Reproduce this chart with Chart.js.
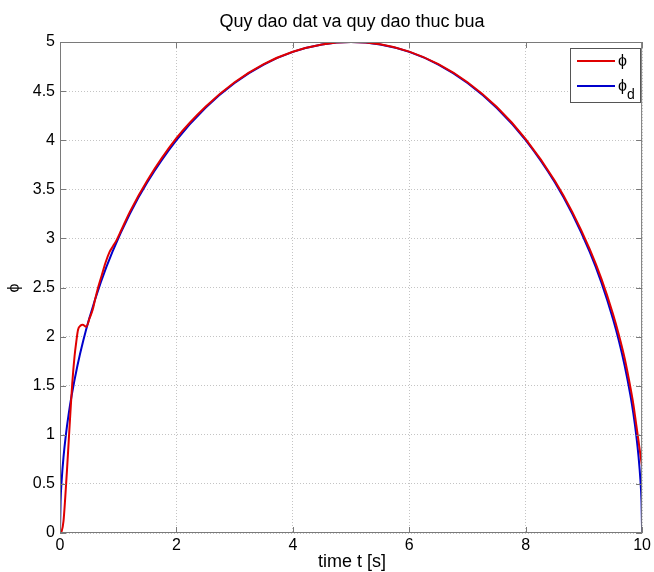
<!DOCTYPE html>
<html><head><meta charset="utf-8">
<script src="https://cdn.jsdelivr.net/npm/chart.js@4"></script>
<style>html,body{margin:0;padding:0;background:#fff}#wrap{width:654px;height:572px}</style>
</head><body><div id="wrap"><canvas id="c" width="654" height="572"></canvas></div>
<script>
const titleText = "Quy dao dat va quy dao thuc bua";
const xLabel = "time t [s]";
const yLabel = "\u03D5";
const xTicks = [0, 2, 4, 6, 8, 10];
const yTicks = [0, 0.5, 1, 1.5, 2, 2.5, 3, 3.5, 4, 4.5, 5];

const desiredT = [0, 0.01, 0.03, 0.06, 0.1, 0.15, 0.2, 0.3, 0.4, 0.5, 0.7, 0.9, 1.2, 1.5, 2, 2.5, 3, 3.5, 4, 4.5, 5, 5.5, 6, 6.5, 7, 7.5, 8, 8.5, 8.8, 9.1, 9.3, 9.5, 9.6, 9.7, 9.8, 9.85, 9.9, 9.94, 9.97, 9.99, 10];
const desiredPhi = [0, 0.316, 0.547, 0.772, 0.995, 1.216, 1.4, 1.706, 1.96, 2.179, 2.551, 2.862, 3.25, 3.571, 4, 4.33, 4.583, 4.77, 4.899, 4.975, 5, 4.975, 4.899, 4.77, 4.583, 4.33, 4, 3.571, 3.25, 2.862, 2.551, 2.179, 1.96, 1.706, 1.4, 1.216, 0.995, 0.772, 0.547, 0.316, 0];

const actualT = [0, 0.03, 0.06, 0.09, 0.12, 0.15, 0.18, 0.21, 0.25, 0.28, 0.31, 0.35, 0.39, 0.45, 0.51, 0.56, 0.6, 0.65, 0.71, 0.78, 0.85, 0.91, 0.97, 1.05, 1.2, 1.5, 2, 2.5, 3, 3.5, 4, 4.5, 5, 5.5, 6, 6.5, 7, 7.5, 8, 8.5, 8.8, 9.1, 9.3, 9.5, 9.6, 9.7, 9.8, 9.85, 9.9, 9.94, 9.97, 10];
const actualPhi = [0, 0.02, 0.12, 0.36, 0.64, 0.94, 1.24, 1.52, 1.8, 1.95, 2.07, 2.11, 2.12, 2.1, 2.19, 2.27, 2.37, 2.49, 2.61, 2.75, 2.86, 2.92, 2.98, 3.08, 3.27, 3.59, 4.02, 4.34, 4.59, 4.775, 4.9, 4.975, 5.0, 4.977, 4.902, 4.774, 4.59, 4.34, 4.012, 3.588, 3.27, 2.89, 2.59, 2.23, 2.02, 1.78, 1.48, 1.31, 1.1, 0.93, 0.8, 0.68];

const FONT = "'Liberation Sans', Arial, sans-serif";
const L = 60, R = 9, T = 42, B = 39;

const frame = {
  id: 'frame',
  afterDraw(chart) {
    const ctx = chart.ctx, a = chart.chartArea;
    const xs = chart.scales.x, ys = chart.scales.y;
    ctx.save();
    ctx.strokeStyle = '#7a7a7a'; ctx.lineWidth = 1;
    ctx.strokeRect(a.left + 0.5, a.top + 0.5, a.right - a.left - 1, a.bottom - a.top - 1);
    ctx.beginPath();
    xTicks.forEach(v => {
      const p = Math.round(xs.getPixelForValue(v)) + 0.5;
      ctx.moveTo(p, a.bottom); ctx.lineTo(p, a.bottom - 6);
      ctx.moveTo(p, a.top); ctx.lineTo(p, a.top + 6);
    });
    yTicks.forEach(v => {
      const p = Math.round(ys.getPixelForValue(v)) + 0.5;
      ctx.moveTo(a.left, p); ctx.lineTo(a.left + 6, p);
      ctx.moveTo(a.right, p); ctx.lineTo(a.right - 6, p);
    });
    ctx.stroke();
    ctx.fillStyle = '#000';
    ctx.font = '18px ' + FONT;
    ctx.textAlign = 'center'; ctx.textBaseline = 'middle';
    ctx.fillText(titleText, 352, 22);
    ctx.fillText(xLabel, 352, 562);
    ctx.save();
    ctx.translate(15, 288); ctx.rotate(-Math.PI / 2);
    ctx.font = '16px ' + FONT;
    ctx.fillText(yLabel, 0, 0);
    ctx.restore();
    const lx = 570, ly = 48, lw = 70, lh = 54;
    ctx.fillStyle = '#fff';
    ctx.fillRect(lx, ly, lw, lh);
    ctx.strokeStyle = '#555'; ctx.lineWidth = 1;
    ctx.strokeRect(lx + 0.5, ly + 0.5, lw, lh);
    const items = [
      {c: chart.data.datasets[0].borderColor, y: 61, sub: ''},
      {c: chart.data.datasets[1].borderColor, y: 86, sub: 'd'}
    ];
    items.forEach(it => {
      ctx.strokeStyle = it.c; ctx.lineWidth = 2;
      ctx.beginPath(); ctx.moveTo(577, it.y); ctx.lineTo(615, it.y); ctx.stroke();
      ctx.fillStyle = '#000';
      ctx.textAlign = 'left'; ctx.textBaseline = 'middle';
      ctx.font = '16px ' + FONT;
      ctx.fillText('\u03D5', 618, it.y + 1);
      if (it.sub) { ctx.font = '14px ' + FONT; ctx.fillText(it.sub, 627, it.y + 9); }
    });
    ctx.restore();
  }
};

new Chart(document.getElementById('c'), {
  type: 'line',
  data: {
    datasets: [
      { label: '\u03D5', data: actualT.map((t, i) => ({x: t, y: actualPhi[i]})), borderColor: '#e00000', borderWidth: 2, pointRadius: 0, fill: false, cubicInterpolationMode: 'monotone' },
      { label: '\u03D5d', data: desiredT.map((t, i) => ({x: t, y: desiredPhi[i]})), borderColor: '#0000cc', borderWidth: 2, pointRadius: 0, fill: false, cubicInterpolationMode: 'monotone' }
    ]
  },
  options: {
    responsive: false, animation: false,
    layout: { padding: { left: 0, right: R, top: T, bottom: 0 } },
    plugins: { legend: { display: false }, title: { display: false }, tooltip: { enabled: false } },
    scales: {
      x: {
        type: 'linear', min: 0, max: 10,
        afterBuildTicks: s => { s.ticks = xTicks.map(v => ({value: v})); },
        afterFit: s => { s.height = B; },
        grid: { color: '#c4c4c4', lineWidth: 1, drawTicks: false },
        border: { display: false, dash: [1, 2] },
        ticks: { color: '#000', font: { family: FONT, size: 16 }, padding: 3, maxRotation: 0, callback: v => String(v) }
      },
      y: {
        type: 'linear', min: 0, max: 5,
        afterBuildTicks: s => { s.ticks = yTicks.map(v => ({value: v})); },
        afterFit: s => { s.width = L; },
        grid: { color: '#c4c4c4', lineWidth: 1, drawTicks: false },
        border: { display: false, dash: [1, 2] },
        ticks: { color: '#000', font: { family: FONT, size: 16 }, padding: 5, callback: v => String(v) }
      }
    }
  },
  plugins: [frame]
});
</script></body></html>
